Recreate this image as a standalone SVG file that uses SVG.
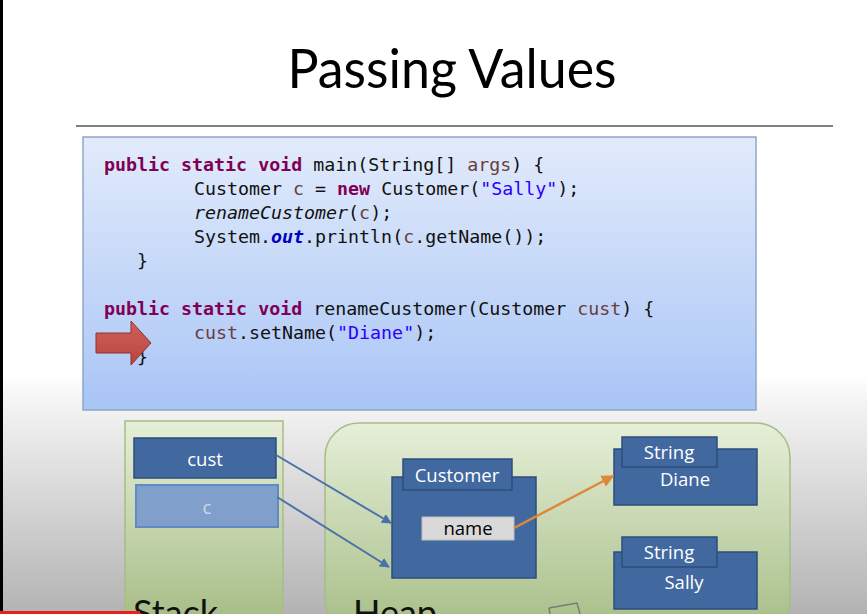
<svg xmlns="http://www.w3.org/2000/svg" width="867" height="614" viewBox="0 0 867 614">
  <defs>
    <linearGradient id="bg" x1="0" y1="0" x2="0" y2="1">
      <stop offset="0" stop-color="#ffffff"/>
      <stop offset="0.61" stop-color="#ffffff"/>
      <stop offset="0.65" stop-color="#f5f5f5"/>
      <stop offset="1" stop-color="#b3b3b3"/>
    </linearGradient>
    <linearGradient id="codeFill" x1="0" y1="0" x2="0" y2="1">
      <stop offset="0" stop-color="#e2ebfb"/>
      <stop offset="1" stop-color="#a9c5f6"/>
    </linearGradient>
    <linearGradient id="green" x1="0" y1="0" x2="0" y2="1">
      <stop offset="0" stop-color="#e6efd8"/>
      <stop offset="1" stop-color="#a6bd86"/>
    </linearGradient>
    <linearGradient id="redArrow" x1="0" y1="0" x2="0" y2="1">
      <stop offset="0" stop-color="#d0605b"/>
      <stop offset="1" stop-color="#b8443f"/>
    </linearGradient>
    <marker id="blueHead" viewBox="0 0 10 10" refX="9" refY="5" markerWidth="5" markerHeight="5" orient="auto">
      <path d="M0,0 L10,5 L0,10 z" fill="#4a72a8"/>
    </marker>
    <marker id="orangeHead" viewBox="0 0 10 10" refX="9" refY="5" markerWidth="5" markerHeight="5" orient="auto">
      <path d="M0,0 L10,5 L0,10 z" fill="#e0883a"/>
    </marker>
  </defs>
  <style>
    .code { font-family: "DejaVu Sans Mono", "Liberation Mono", monospace; font-size: 18.3px; fill: #111; }
    .kw { fill: #7f0055; font-weight: bold; }
    .var { fill: #6a3e3e; }
    .str { fill: #2a00ff; }
    .fld { fill: #0000c0; font-weight: bold; font-style: italic; }
    .it { font-style: italic; }
    .box { fill: #41689f; stroke: #2c4d7c; stroke-width: 1.5; }
    .lbl { font-family: "Open Sans", "Liberation Sans", sans-serif; font-size: 18.5px; fill: #ffffff; text-anchor: middle; }
    .big { font-family: "Lato", "Liberation Sans", sans-serif; font-size: 36px; fill: #111; }
    .link { fill: none; stroke: #4a72a8; stroke-width: 2; marker-end: url(#blueHead); }
  </style>

  <!-- page background -->
  <rect x="0" y="0" width="867" height="614" fill="url(#bg)"/>
  <rect x="0" y="0" width="3" height="614" fill="#000"/>

  <!-- title -->
  <text x="452" y="88" font-family="Lato, 'Liberation Sans', sans-serif" font-size="54" fill="#000" text-anchor="middle" textLength="329" lengthAdjust="spacingAndGlyphs">Passing Values</text>
  <line x1="76" y1="126" x2="833" y2="126" stroke="#808080" stroke-width="2"/>

  <!-- code panel -->
  <g id="code">
    <rect x="83" y="137" width="673" height="273" fill="url(#codeFill)" stroke="#8fa7c9" stroke-width="1.5"/>
    <text class="code" x="104" y="171"><tspan class="kw">public</tspan> <tspan class="kw">static</tspan> <tspan class="kw">void</tspan> main(String[] <tspan class="var">args</tspan>) {</text>
    <text class="code" x="194" y="195">Customer <tspan class="var">c</tspan> = <tspan class="kw">new</tspan> Customer(<tspan class="str">"Sally"</tspan>);</text>
    <text class="code" x="194" y="219"><tspan class="it">renameCustomer</tspan>(<tspan class="var">c</tspan>);</text>
    <text class="code" x="194" y="243">System.<tspan class="fld">out</tspan>.println(<tspan class="var">c</tspan>.getName());</text>
    <text class="code" x="137" y="267">}</text>
    <text class="code" x="104" y="315"><tspan class="kw">public</tspan> <tspan class="kw">static</tspan> <tspan class="kw">void</tspan> renameCustomer(Customer <tspan class="var">cust</tspan>) {</text>
    <text class="code" x="194" y="339"><tspan class="var">cust</tspan>.setName(<tspan class="str">"Diane"</tspan>);</text>
    <text class="code" x="137" y="363">}</text>
  </g>

  <!-- current line pointer -->
  <g id="pointer">
    <path d="M96,333 L131,333 L131,321 L151,343 L131,365 L131,353 L96,353 z" fill="url(#redArrow)" stroke="#8e3431" stroke-width="1"/>
  </g>

  <!-- stack area -->
  <g id="stack">
    <rect x="125" y="421" width="158" height="200" fill="url(#green)" stroke="#a7bc85" stroke-width="1.5"/>
    <text class="big" x="133" y="626">Stack</text>
  </g>

  <!-- heap area -->
  <g id="heap">
    <rect x="325" y="423" width="465" height="210" rx="34" ry="34" fill="url(#green)" stroke="#a7bc85" stroke-width="1.5"/>
    <text class="big" x="353" y="626">Heap</text>
    <path d="M549,608 L577,603 L580,614 M549,608 L550,614" fill="none" stroke="#7a7a72" stroke-width="1.5"/>
  </g>

  <!-- stack variables -->
  <g id="var-cust">
    <rect class="box" x="134" y="438" width="142" height="40"/>
    <text class="lbl" x="205" y="466">cust</text>
  </g>
  <g id="var-c">
    <rect x="136" y="485" width="142" height="42" fill="#819fcb" stroke="#5f8ac6" stroke-width="2"/>
    <text class="lbl" x="207" y="514" style="fill:#ccd8ea">c</text>
  </g>

  <!-- Customer object -->
  <g id="customer">
    <rect class="box" x="392" y="477" width="144" height="101"/>
    <rect class="box" x="403" y="459" width="109" height="31"/>
    <text class="lbl" x="457" y="482">Customer</text>
    <rect x="422" y="517" width="92" height="23" fill="#d9d9d9" stroke="#bfbfbf" stroke-width="1"/>
    <text class="lbl" x="468" y="535" style="fill:#000">name</text>
  </g>

  <!-- String "Diane" -->
  <g id="string-diane">
    <rect class="box" x="614" y="449" width="143" height="56"/>
    <rect class="box" x="622" y="437" width="95" height="30"/>
    <text class="lbl" x="669" y="459">String</text>
    <text class="lbl" x="685" y="486">Diane</text>
  </g>

  <!-- String "Sally" -->
  <g id="string-sally">
    <rect class="box" x="614" y="552" width="143" height="57"/>
    <rect class="box" x="622" y="537" width="95" height="30"/>
    <text class="lbl" x="669" y="559">String</text>
    <text class="lbl" x="684" y="589">Sally</text>
  </g>

  <!-- references -->
  <g id="connectors">
    <line class="link" x1="276" y1="455" x2="391" y2="523"/>
    <line class="link" x1="277" y1="497" x2="389" y2="567"/>
    <line x1="514" y1="528" x2="613" y2="476" stroke="#e0883a" stroke-width="2.5" marker-end="url(#orangeHead)"/>
  </g>

  <!-- playback bar -->
  <rect x="0" y="611" width="140" height="3" fill="#e52222"/>
</svg>
